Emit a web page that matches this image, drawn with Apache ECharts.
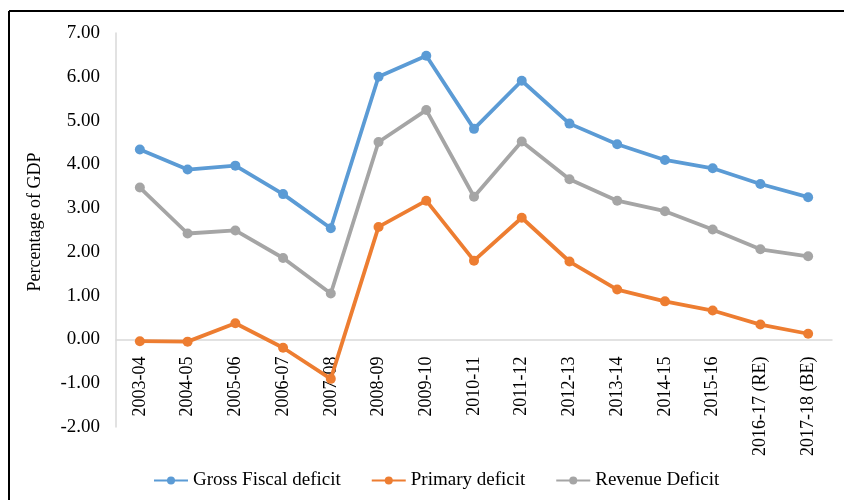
<!DOCTYPE html>
<html>
<head>
<meta charset="utf-8">
<script src="https://cdn.jsdelivr.net/npm/echarts@6/dist/echarts.min.js"></script>
<style>
html,body{margin:0;padding:0;background:#fff;}
#chart{width:844px;height:500px;}
</style>
</head>
<body>
<div id="chart"></div>
<script>
const categories = ['2003-04','2004-05','2005-06','2006-07','2007-08','2008-09','2009-10','2010-11','2011-12','2012-13','2013-14','2014-15','2015-16','2016-17 (RE)','2017-18 (BE)'];
const grossFiscal = [4.34, 3.88, 3.97, 3.32, 2.54, 6.00, 6.48, 4.81, 5.91, 4.93, 4.46, 4.10, 3.91, 3.55, 3.25];
const primaryDeficit = [-0.04, -0.05, 0.37, -0.19, -0.90, 2.57, 3.17, 1.80, 2.78, 1.78, 1.14, 0.87, 0.66, 0.34, 0.13];
const revenueDeficit = [3.47, 2.42, 2.49, 1.86, 1.05, 4.51, 5.24, 3.26, 4.52, 3.66, 3.17, 2.93, 2.51, 2.06, 1.90];
const seriesNames = ['Gross Fiscal deficit', 'Primary deficit', 'Revenue Deficit'];
const colors = ['#5B9BD5', '#ED7D31', '#A5A5A5'];
const yMin = -2, yMax = 7;

const font = 'Liberation Serif';
const gridTop = 33, gridBottom = 73, H = 500;
const plotH = H - gridTop - gridBottom;
const zeroOffset = -plotH * (0 - yMin) / (yMax - yMin);

const chart = echarts.init(document.getElementById('chart'));
function mk(name, data, color) {
  return {
    name: name, type: 'line', data: data,
    symbol: 'circle', symbolSize: 10,
    lineStyle: { width: 3.8, color: color },
    itemStyle: { color: color },
    emphasis: { disabled: true },
    animation: false
  };
}
chart.setOption({
  animation: false,
  color: colors,
  textStyle: { fontFamily: font },
  grid: { left: 116, right: 12, top: gridTop, bottom: gridBottom, containLabel: false, outerBoundsMode: 'none' },
  legend: {
    bottom: 5, left: 148,
    itemWidth: 34, itemHeight: 10, itemGap: 30,
    textStyle: { fontFamily: font, fontSize: 19, color: '#000' },
    data: seriesNames
  },
  xAxis: {
    type: 'category', data: categories, boundaryGap: true,
    position: 'bottom', offset: zeroOffset,
    axisLine: { onZero: false, lineStyle: { color: '#D9D9D9', width: 1.5 } },
    axisTick: { show: false },
    axisLabel: { rotate: 90, interval: 0, margin: 17, color: '#000', fontFamily: font, fontSize: 18 },
    splitLine: { show: false }
  },
  yAxis: {
    type: 'value', min: yMin, max: yMax, interval: 1,
    name: 'Percentage of GDP', nameLocation: 'middle', nameGap: 72, nameRotate: 90,
    nameTextStyle: { fontFamily: font, fontSize: 18, color: '#000', padding: [0, 0, 0, 16] },
    axisLine: { show: true, lineStyle: { color: '#D9D9D9', width: 1.5 } },
    axisTick: { show: false },
    axisLabel: { margin: 16, color: '#000', fontFamily: font, fontSize: 19, formatter: v => v.toFixed(2) },
    splitLine: { show: false }
  },
  graphic: [
    { type: 'line', shape: { x1: 9, y1: 11, x2: 844, y2: 11 }, style: { stroke: '#000', lineWidth: 2 } },
    { type: 'line', shape: { x1: 9, y1: 11, x2: 9, y2: 500 }, style: { stroke: '#000', lineWidth: 2 } }
  ],
  series: [
    mk(seriesNames[0], grossFiscal, colors[0]),
    mk(seriesNames[1], primaryDeficit, colors[1]),
    mk(seriesNames[2], revenueDeficit, colors[2])
  ]
});
</script>
</body>
</html>
